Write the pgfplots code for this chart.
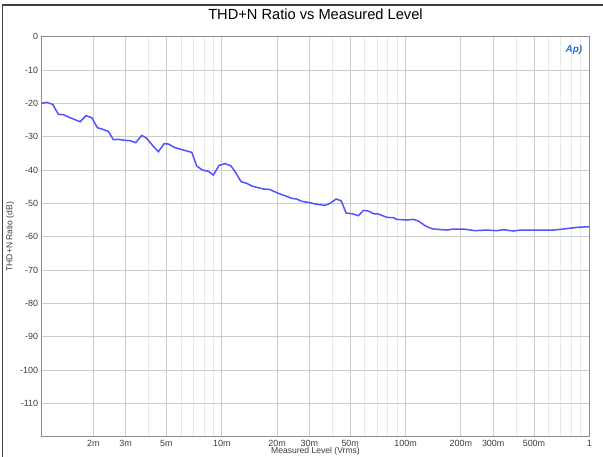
\documentclass[border=0pt]{standalone}
\usepackage{fontspec}
\setmainfont{Liberation Sans}
\usepackage{pgfplots}
\pgfplotsset{compat=1.18}
\definecolor{trace}{RGB}{82,82,255}
\definecolor{apblue}{RGB}{30,110,200}
\definecolor{lbl}{RGB}{60,60,60}

\begin{document}
\begin{tikzpicture}
\useasboundingbox (0,0) rectangle (603bp,457bp);
% window frame, cut by the crop
\draw[black!75, line width=1.2bp] (2.7bp,0) -- (2.7bp,452bp) -- (603bp,452bp);
\node[font=\fontsize{14.7}{16}\selectfont] at (315.5bp,443bp) {THD+N Ratio vs Measured Level};
\begin{axis}[
  at={(41.7bp,20.3bp)}, anchor=south west,
  scale only axis, width=547.6bp, height=400bp,
  xmode=log, xmin=1.047e-3, xmax=1,
  ymin=-120, ymax=0,
  ytick={-110,-100,...,0},
  xtick={0.002,0.003,0.005,0.01,0.02,0.03,0.05,0.1,0.2,0.3,0.5,1},
  xticklabels={2m,3m,5m,10m,20m,30m,50m,100m,200m,300m,500m,1},
  minor xtick={0.004,0.006,0.007,0.008,0.009,0.04,0.06,0.07,0.08,0.09,0.4,0.6,0.7,0.8,0.9},
  grid=both,
  major grid style={black!20, line width=0.8bp},
  minor grid style={black!9, line width=0.8bp},
  major tick length=0pt, minor tick length=0pt,
  axis line style={black!45, line width=0.9bp},
  /pgf/number format/assume math mode=true,
  ticklabel style={font=\fontsize{9}{10}\selectfont, text=lbl},
  xticklabel style={anchor=center, yshift=-6.5bp},
  every axis y label/.style={at={(axis description cs:-0.0578,0.5)}, rotate=90, anchor=center},
  every axis x label/.style={at={(axis description cs:0.5,-0.037)}, anchor=center},
  label style={font=\fontsize{8.6}{10}\selectfont, text=lbl},
  ylabel={THD+N Ratio (dB)},
  xlabel={Measured Level (Vrms)},
]
\addplot[trace, line width=1.5bp] coordinates {
(0.001047,-20.0) (0.001115,-19.7) (0.001202,-20.3) (0.001290,-23.3)
(0.001373,-23.4) (0.001494,-24.3) (0.001693,-25.5) (0.001825,-23.7)
(0.001960,-24.3) (0.002103,-27.3) (0.002223,-27.7) (0.002414,-28.4)
(0.002570,-30.9) (0.002736,-30.8) (0.002976,-31.1) (0.003168,-31.2)
(0.003402,-31.8) (0.003669,-29.6) (0.003906,-30.5) (0.004211,-32.7)
(0.004518,-34.5) (0.004852,-32.1) (0.005121,-32.2) (0.005570,-33.3)
(0.006180,-34.0) (0.006866,-34.7) (0.007310,-38.8) (0.007844,-40.0)
(0.008456,-40.4) (0.009000,-41.5) (0.009670,-38.6) (0.010420,-38.1)
(0.011190,-38.7) (0.011820,-40.5) (0.012740,-43.5) (0.013680,-44.0)
(0.014570,-44.8) (0.016850,-45.7) (0.018160,-45.8) (0.020330,-47.0)
(0.024050,-48.5) (0.025610,-48.7) (0.027260,-49.4) (0.030250,-49.8)
(0.032200,-50.2) (0.036500,-50.6) (0.038860,-50.0) (0.041900,-48.7)
(0.044610,-49.2) (0.047500,-52.9) (0.051020,-53.1) (0.055410,-53.7)
(0.058980,-52.1) (0.062810,-52.3) (0.066890,-53.1) (0.071220,-53.2)
(0.079100,-54.2) (0.085950,-54.3) (0.089690,-54.8) (0.101600,-55.0)
(0.110400,-54.8) (0.117500,-55.3) (0.127800,-56.7) (0.136100,-57.4)
(0.141900,-57.7) (0.167800,-58.0) (0.182300,-57.7) (0.206700,-57.7)
(0.239300,-58.2) (0.277100,-58.0) (0.314100,-58.2) (0.341200,-57.9)
(0.386700,-58.3) (0.420600,-58.0) (0.638500,-58.0) (0.723600,-57.7)
(0.855900,-57.2) (1.000000,-57.0)
};
\node[text=apblue, font=\bfseries\itshape\fontsize{10}{10}\selectfont] at (rel axis cs:0.972,0.967) {Ap)};
\end{axis}
\end{tikzpicture}
\end{document}
